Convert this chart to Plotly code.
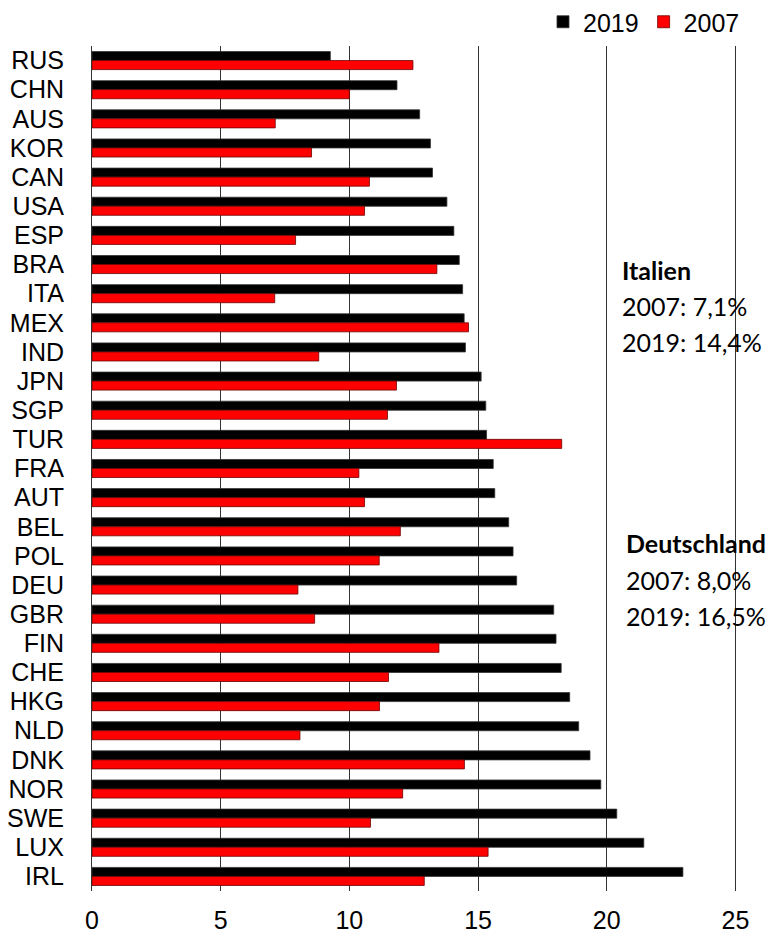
import plotly.graph_objects as go

countries = ["RUS", "CHN", "AUS", "KOR", "CAN", "USA", "ESP", "BRA", "ITA", "MEX",
             "IND", "JPN", "SGP", "TUR", "FRA", "AUT", "BEL", "POL", "DEU", "GBR",
             "FIN", "CHE", "HKG", "NLD", "DNK", "NOR", "SWE", "LUX", "IRL"]

val_2019 = [9.26, 11.85, 12.73, 13.15, 13.23, 13.79, 14.06, 14.27, 14.4, 14.46,
            14.51, 15.12, 15.30, 15.33, 15.59, 15.65, 16.19, 16.36, 16.5, 17.94,
            18.03, 18.23, 18.56, 18.91, 19.35, 19.77, 20.39, 21.44, 22.96]

val_2007 = [12.47, 10.0, 7.12, 8.53, 10.78, 10.59, 7.91, 13.4, 7.1, 14.63,
            8.81, 11.83, 11.48, 18.25, 10.37, 10.59, 11.98, 11.16, 8.0, 8.65,
            13.48, 11.52, 11.17, 8.08, 14.47, 12.07, 10.82, 15.39, 12.91]

x_ticks = [0, 5, 10, 15, 20, 25]

notes = [
    ("<b>Italien</b>", 0.817, 0.735),
    ("2007: 7,1%", 0.817, 0.692),
    ("2019: 14,4%", 0.817, 0.650),
    ("<b>Deutschland</b>", 0.824, 0.412),
    ("2007: 8,0%", 0.824, 0.368),
    ("2019: 16,5%", 0.824, 0.325),
]

fig = go.Figure()
fig.add_trace(go.Bar(y=countries, x=val_2019, name="2019", orientation="h",
                     marker=dict(color="black", line=dict(color="#333333", width=0.8))))
fig.add_trace(go.Bar(y=countries, x=val_2007, name="2007", orientation="h",
                     marker=dict(color="#ff0000", line=dict(color="#6b0000", width=0.8))))

for txt, xx, yy in notes:
    fig.add_annotation(text=txt, xref="paper", yref="paper", x=xx, y=yy,
                       xanchor="left", yanchor="middle", showarrow=False,
                       font=dict(family="Lato", size=25, color="black"))

# page body adds 8px offset, margins compensate
fig.update_layout(
    width=777, height=934,
    margin=dict(l=84, r=47, t=38, b=51, autoexpand=False),
    paper_bgcolor="white", plot_bgcolor="white",
    barmode="group", bargap=0.38, bargroupgap=0,
    font=dict(family="Liberation Sans, Arial", size=25, color="black"),
    showlegend=True,
    legend=dict(orientation="h", xref="container", yref="container",
                x=0.9485, xanchor="right", y=0.985, yanchor="middle",
                font=dict(size=25), itemwidth=30, bgcolor="rgba(0,0,0,0)"),
)
fig.update_xaxes(range=[0, 25.1], tickvals=x_ticks, showgrid=True, gridcolor="#333333",
                 gridwidth=1, zeroline=False, showline=False, ticks="",
                 automargin=False, ticklabelstandoff=12, tickfont=dict(size=25))
fig.update_yaxes(autorange="reversed", tickmode="array", tickvals=countries,
                 showgrid=False, showline=True, linecolor="#333333", linewidth=1,
                 ticks="", automargin=False, tickfont=dict(size=25), ticklabelstandoff=22)

fig.write_html("out.html")
